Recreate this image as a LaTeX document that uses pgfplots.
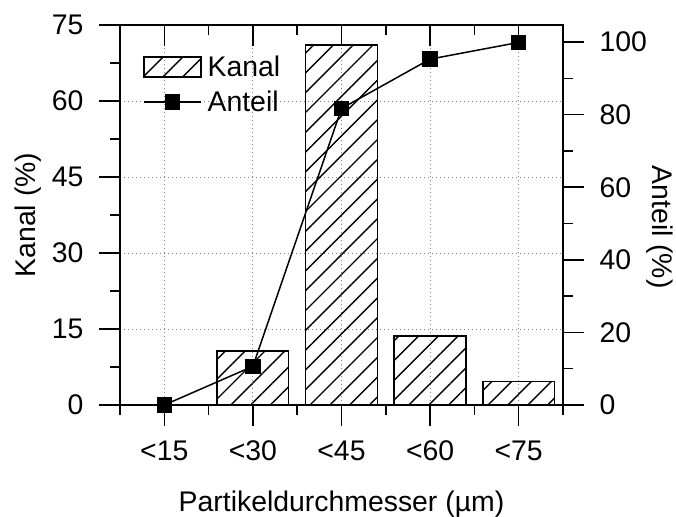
\documentclass[border=0pt]{standalone}
\usepackage{fontspec}
\setmainfont{Liberation Sans}
\usepackage{pgfplots}
\pgfplotsset{compat=1.18}
\usetikzlibrary{patterns.meta}

\pgfplotstableread{
x kanal anteil
0 0     0
1 10.66 10.66
2 71.05 81.7
3 13.6  95.3
4 4.6   99.9
}\datatable

\pgfplotsset{
  base/.style={
    scale only axis, width=443bp, height=380bp,
    xmin=-0.5, xmax=4.5,
    axis line style={line width=1.5bp, black},
    every tick/.style={line width=1.5bp, black},
    major tick length=21bp, minor tick length=10bp,
    /pgf/number format/assume math mode=true,
  },
  barlegend/.style={legend image code/.code={
    \draw[black, line width=1.5bp, pattern={Lines[angle=45,distance=14bp,line width=1.4bp]}]
      (0bp,-10bp) rectangle (57bp,10bp);}},
  linelegend/.style={legend image code/.code={
    \draw[black, line width=1.5bp] (0bp,0bp) -- (57bp,0bp);
    \draw[black] plot[mark=square*, mark size=7bp] coordinates {(28.5bp,0bp)};}},
}

\begin{document}
\begin{tikzpicture}[font=\fontsize{28.5}{34}\selectfont]
% Axis 1: left axis + bottom, bars
\begin{axis}[base,
  ymin=0, ymax=75,
  ytick={0,15,...,75}, minor ytick={7.5,22.5,...,67.5},
  xtick={0,...,4}, xticklabels={<15,<30,<45,<60,<75},
  minor xtick={-0.5,0.5,...,4.5},
  xtick pos=left, ytick pos=left, tick align=outside,
  xticklabel style={yshift=-11bp},
  yticklabel style={xshift=-12bp},
  grid=major, grid style={gray, line width=0.8bp, dash pattern=on 1bp off 3bp},
  ylabel={Kanal (\%)},
  ylabel style={at={(axis description cs:-0.2077,0.5)}, anchor=center},
  xlabel={Partikeldurchmesser (µm)},
  xlabel style={at={(axis description cs:0.5,0)}, anchor=base, yshift=-106bp},
]
\addplot[ybar, bar width=71.7bp, draw=black, line width=1.5bp,
  pattern={Lines[angle=45,distance=14bp,line width=1.4bp]}]
  table[x=x, y=kanal] {\datatable};
\end{axis}
% Axis 2: right axis, line
\begin{axis}[base,
  hide x axis,
  ymin=0, ymax=104.7,
  ytick={0,20,...,100}, minor ytick={10,30,...,90},
  ytick pos=right, tick align=outside,
  yticklabel style={xshift=12bp},
  ylabel={Anteil (\%)},
  ylabel style={at={(axis description cs:1.219,0.468)}, anchor=center, rotate=180},
  clip=false,
  legend style={at={(axis description cs:0.045,0.93)}, anchor=north west, draw=none, fill=none,
    row sep=9bp, column sep=4bp, font=\fontsize{28.5}{34}\selectfont},
  legend cell align=left,
]
\addlegendimage{barlegend}
\addlegendentry{Kanal}
\addplot[black, line width=1.5bp, mark=square*, mark size=7bp, mark options={solid}, linelegend]
  table[x=x, y=anteil] {\datatable};
\addlegendentry{Anteil}
\end{axis}
% Axis 3: top ticks inward
\begin{axis}[base,
  hide y axis,
  ymin=0, ymax=1,
  xtick={0,...,4}, xticklabels={},
  minor xtick={-0.5,0.5,...,4.5},
  xtick pos=right, tick align=inside,
]
\end{axis}
\pgfresetboundingbox
\path[use as bounding box] (-120bp,-112bp) rectangle (556bp,405bp);
\end{tikzpicture}
\end{document}
